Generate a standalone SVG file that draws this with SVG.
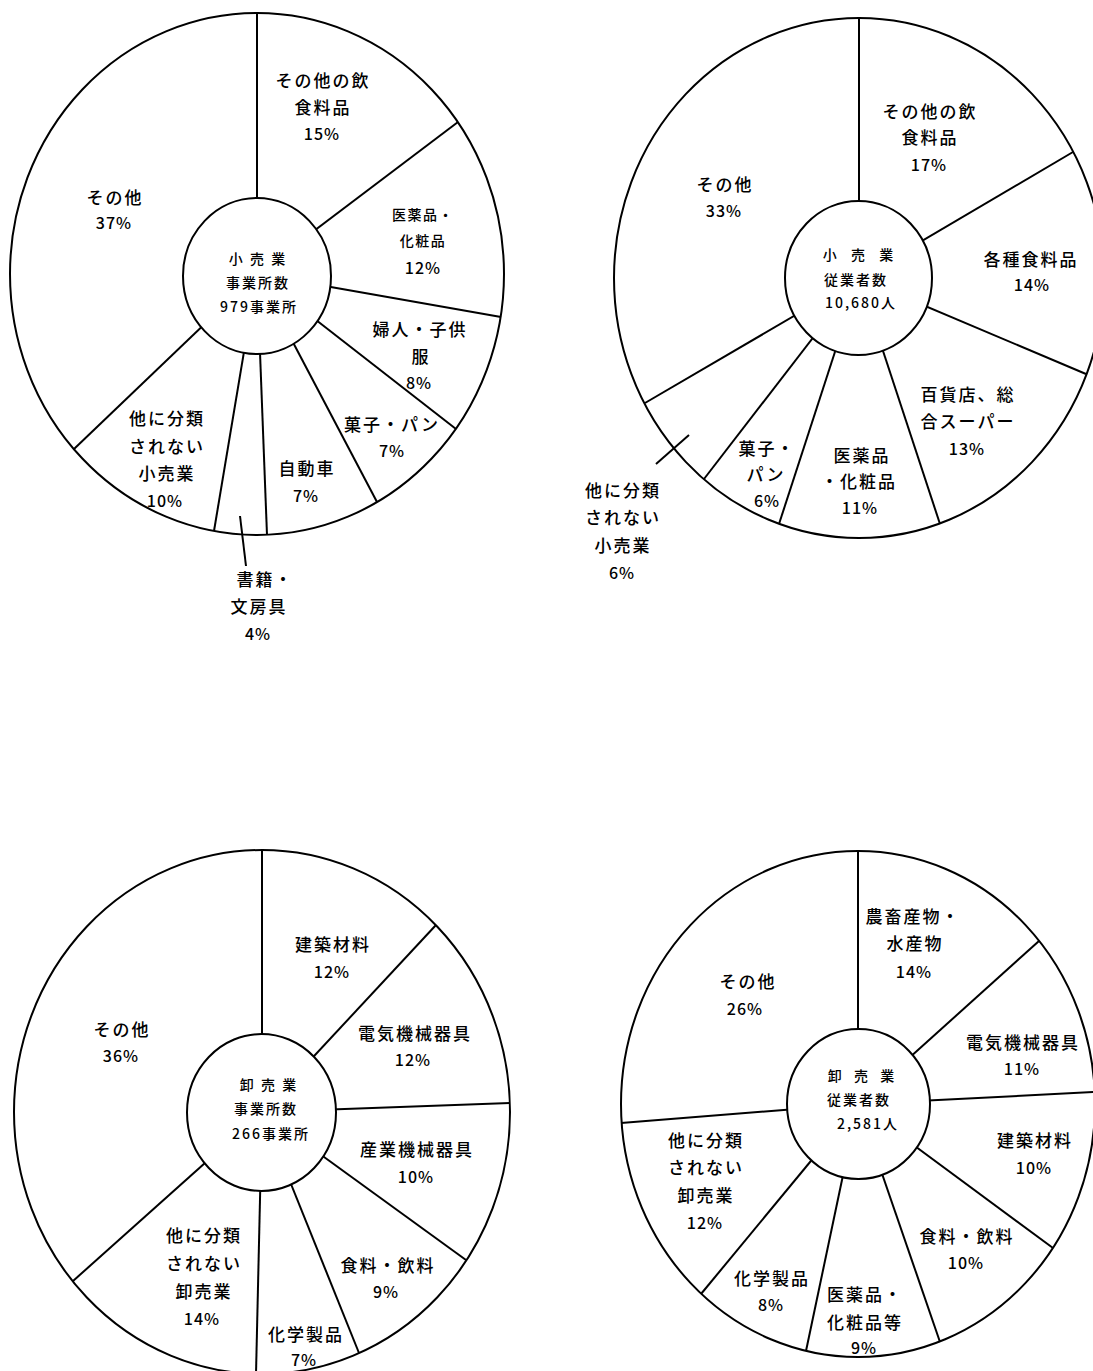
<svg xmlns="http://www.w3.org/2000/svg" width="1093" height="1371" viewBox="0 0 1093 1371">
<style>
.o{fill:#fff;stroke:#000;stroke-width:2}
.d{stroke:#000;stroke-width:2;fill:none}
text{font-family:"Noto Sans CJK JP","Noto Sans CJK SC",sans-serif;font-weight:500;fill:#000;text-anchor:middle;dominant-baseline:central}
.l{font-size:17px;letter-spacing:2px}
.p{font-size:16px;letter-spacing:1px}
.s{font-size:14px;letter-spacing:1.5px}
.c{font-size:14px;letter-spacing:2px}
</style>
<rect width="1093" height="1371" fill="#fff"/>

<g id="chart-retail-establishments">
  <ellipse class="o" cx="257" cy="274" rx="247" ry="261"/>
  <g id="retail-est-dividers" class="d">
    <line x1="257" y1="274" x2="257" y2="13"/>
    <line x1="257" y1="274" x2="458" y2="122"/>
    <line x1="257" y1="274" x2="501" y2="317"/>
    <line x1="257" y1="274" x2="456" y2="429"/>
    <line x1="257" y1="274" x2="377" y2="502"/>
    <line x1="257" y1="274" x2="267" y2="535"/>
    <line x1="257" y1="274" x2="214" y2="531"/>
    <line x1="257" y1="274" x2="74" y2="449"/>
  </g>
  <ellipse class="o" cx="257" cy="276" rx="74" ry="78"/>
  <g id="retail-est-center">
    <text class="c" x="258" y="258">小 売 業</text>
    <text class="c" x="258" y="282">事業所数</text>
    <text class="c" x="259" y="306">979事業所</text>
  </g>
  <g id="retail-est-other-food"><text class="l" x="323" y="79">その他の飲</text><text class="l" x="323" y="106">食料品</text><text class="p" x="322" y="133">15%</text></g>
  <g id="retail-est-other"><text class="l" x="115" y="196">その他</text><text class="p" x="114" y="222">37%</text></g>
  <g id="retail-est-pharma"><text class="s" x="423" y="214">医薬品・</text><text class="s" x="423" y="240">化粧品</text><text class="p" x="423" y="267">12%</text></g>
  <g id="retail-est-clothing"><text class="l" x="420" y="328">婦人・子供</text><text class="l" x="421" y="355">服</text><text class="p" x="419" y="382">8%</text></g>
  <g id="retail-est-sweets"><text class="l" x="392" y="423">菓子・パン</text><text class="p" x="392" y="450">7%</text></g>
  <g id="retail-est-auto"><text class="l" x="307" y="467">自動車</text><text class="p" x="306" y="495">7%</text></g>
  <g id="retail-est-unclassified"><text class="l" x="167" y="417">他に分類</text><text class="l" x="167" y="445">されない</text><text class="l" x="167" y="472">小売業</text><text class="p" x="165" y="500">10%</text></g>
  <g id="retail-est-books"><text class="l" x="265" y="578">書籍・</text><text class="l" x="259" y="605">文房具</text><text class="p" x="258" y="633">4%</text></g>
</g>

<g id="chart-retail-employees">
  <ellipse class="o" cx="859" cy="278" rx="245" ry="260"/>
  <g id="retail-emp-dividers" class="d">
    <line x1="859" y1="278" x2="859" y2="18"/>
    <line x1="859" y1="278" x2="1073" y2="152"/>
    <line x1="859" y1="278" x2="1086" y2="374"/>
    <line x1="859" y1="278" x2="940" y2="524"/>
    <line x1="859" y1="278" x2="779" y2="524"/>
    <line x1="859" y1="278" x2="704" y2="479"/>
    <line x1="859" y1="278" x2="645" y2="403"/>
  </g>
  <ellipse class="o" cx="858.5" cy="278" rx="73.5" ry="77"/>
  <g id="retail-emp-center">
    <text class="c" x="859" y="254" word-spacing="7">小 売 業</text>
    <text class="c" x="856" y="279">従業者数</text>
    <text class="c" x="861" y="302">10,680人</text>
  </g>
  <g id="retail-emp-other-food"><text class="l" x="930" y="110">その他の飲</text><text class="l" x="930" y="136">食料品</text><text class="p" x="929" y="164">17%</text></g>
  <g id="retail-emp-general-food"><text class="l" x="1031" y="258">各種食料品</text><text class="p" x="1032" y="284">14%</text></g>
  <g id="retail-emp-dept"><text class="l" x="968" y="393">百貨店、総</text><text class="l" x="968" y="420">合スーパー</text><text class="p" x="967" y="448">13%</text></g>
  <g id="retail-emp-pharma"><text class="l" x="862" y="454">医薬品</text><text class="l" x="859" y="480">・化粧品</text><text class="p" x="860" y="507">11%</text></g>
  <g id="retail-emp-sweets"><text class="l" x="767" y="447">菓子・</text><text class="l" x="766" y="473">パン</text><text class="p" x="767" y="500">6%</text></g>
  <g id="retail-emp-unclassified"><text class="l" x="623" y="489">他に分類</text><text class="l" x="623" y="516">されない</text><text class="l" x="623" y="544">小売業</text><text class="p" x="622" y="572">6%</text></g>
  <g id="retail-emp-other"><text class="l" x="725" y="183">その他</text><text class="p" x="724" y="210">33%</text></g>
</g>

<g id="chart-wholesale-establishments">
  <ellipse class="o" cx="262" cy="1112" rx="248" ry="262"/>
  <g id="wholesale-est-dividers" class="d">
    <line x1="262" y1="1112" x2="262" y2="850"/>
    <line x1="262" y1="1112" x2="436" y2="925"/>
    <line x1="262" y1="1112" x2="510" y2="1103"/>
    <line x1="262" y1="1112" x2="466" y2="1260"/>
    <line x1="262" y1="1112" x2="359" y2="1353"/>
    <line x1="262" y1="1112" x2="256" y2="1374"/>
    <line x1="262" y1="1112" x2="73" y2="1281"/>
  </g>
  <ellipse class="o" cx="261.5" cy="1112.5" rx="74.5" ry="78.5"/>
  <g id="wholesale-est-center">
    <text class="c" x="269" y="1084">卸 売 業</text>
    <text class="c" x="266" y="1108">事業所数</text>
    <text class="c" x="271" y="1133">266事業所</text>
  </g>
  <g id="wholesale-est-building"><text class="l" x="333" y="943">建築材料</text><text class="p" x="332" y="971">12%</text></g>
  <g id="wholesale-est-electric"><text class="l" x="415" y="1032">電気機械器具</text><text class="p" x="413" y="1059">12%</text></g>
  <g id="wholesale-est-industrial"><text class="l" x="417" y="1148">産業機械器具</text><text class="p" x="416" y="1176">10%</text></g>
  <g id="wholesale-est-food"><text class="l" x="388" y="1264">食料・飲料</text><text class="p" x="386" y="1291">9%</text></g>
  <g id="wholesale-est-chemical"><text class="l" x="306" y="1333">化学製品</text><text class="p" x="304" y="1359">7%</text></g>
  <g id="wholesale-est-unclassified"><text class="l" x="204" y="1234">他に分類</text><text class="l" x="204" y="1262">されない</text><text class="l" x="204" y="1290">卸売業</text><text class="p" x="202" y="1318">14%</text></g>
  <g id="wholesale-est-other"><text class="l" x="122" y="1028">その他</text><text class="p" x="121" y="1055">36%</text></g>
</g>

<g id="chart-wholesale-employees">
  <ellipse class="o" cx="858" cy="1104" rx="237" ry="253"/>
  <g id="wholesale-emp-dividers" class="d">
    <line x1="858" y1="1104" x2="858" y2="851"/>
    <line x1="858" y1="1104" x2="1039" y2="941"/>
    <line x1="858" y1="1104" x2="1095" y2="1092"/>
    <line x1="858" y1="1104" x2="1053" y2="1248"/>
    <line x1="858" y1="1104" x2="940" y2="1342"/>
    <line x1="858" y1="1104" x2="806" y2="1351"/>
    <line x1="858" y1="1104" x2="701" y2="1294"/>
    <line x1="858" y1="1104" x2="621" y2="1123"/>
  </g>
  <ellipse class="o" cx="858.5" cy="1104" rx="71.5" ry="75"/>
  <g id="wholesale-emp-center">
    <text class="c" x="862" y="1075" word-spacing="5">卸 売 業</text>
    <text class="c" x="859" y="1099">従業者数</text>
    <text class="c" x="868" y="1123">2,581人</text>
  </g>
  <g id="wholesale-emp-agri"><text class="l" x="913" y="915">農畜産物・</text><text class="l" x="915" y="942">水産物</text><text class="p" x="914" y="971">14%</text></g>
  <g id="wholesale-emp-other"><text class="l" x="748" y="980">その他</text><text class="p" x="745" y="1008">26%</text></g>
  <g id="wholesale-emp-electric"><text class="l" x="1023" y="1041">電気機械器具</text><text class="p" x="1022" y="1068">11%</text></g>
  <g id="wholesale-emp-building"><text class="l" x="1035" y="1139">建築材料</text><text class="p" x="1034" y="1167">10%</text></g>
  <g id="wholesale-emp-food"><text class="l" x="967" y="1235">食料・飲料</text><text class="p" x="966" y="1262">10%</text></g>
  <g id="wholesale-emp-pharma"><text class="l" x="865" y="1293">医薬品・</text><text class="l" x="865" y="1321">化粧品等</text><text class="p" x="864" y="1347">9%</text></g>
  <g id="wholesale-emp-chemical"><text class="l" x="772" y="1277">化学製品</text><text class="p" x="771" y="1304">8%</text></g>
  <g id="wholesale-emp-unclassified"><text class="l" x="706" y="1139">他に分類</text><text class="l" x="706" y="1166">されない</text><text class="l" x="706" y="1194">卸売業</text><text class="p" x="705" y="1222">12%</text></g>
</g>

<g id="connectors" class="d">
  <line x1="240" y1="516" x2="246" y2="566"/>
  <line x1="656" y1="464" x2="689" y2="435"/>
</g>
</svg>
